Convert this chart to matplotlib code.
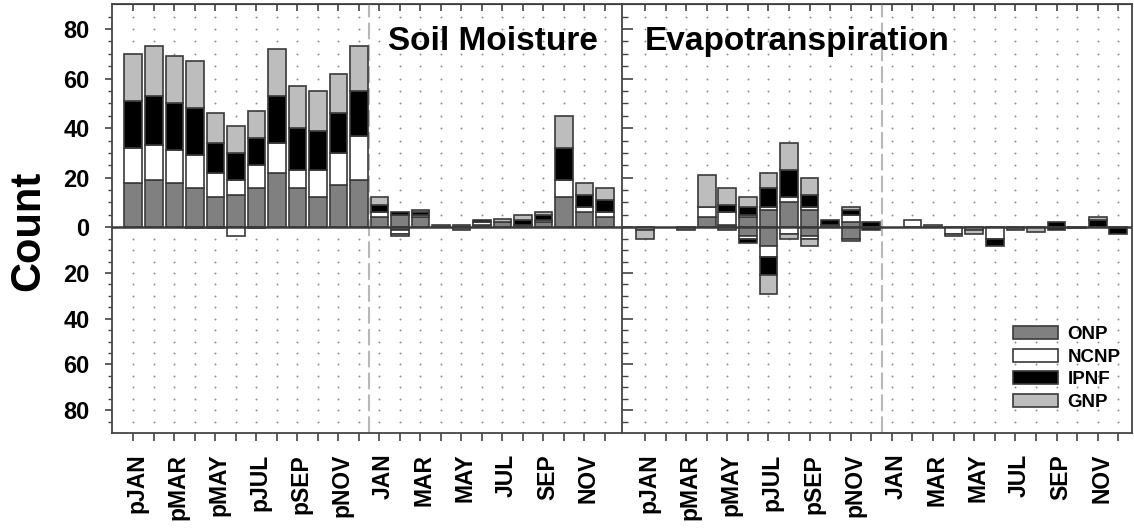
import numpy as np
import matplotlib
matplotlib.use('Agg')
import matplotlib.pyplot as plt
import matplotlib.transforms as mtransforms
from matplotlib.ticker import FuncFormatter

plt.rcParams['font.family'] = ['Liberation Sans', 'DejaVu Sans']
plt.rcParams['font.weight'] = 'bold'

months = ['pJAN', 'pFEB', 'pMAR', 'pAPR', 'pMAY', 'pJUN', 'pJUL', 'pAUG', 'pSEP', 'pOCT', 'pNOV', 'pDEC',
          'JAN', 'FEB', 'MAR', 'APR', 'MAY', 'JUN', 'JUL', 'AUG', 'SEP', 'OCT', 'NOV', 'DEC']
groups = ['ONP', 'NCNP', 'IPNF', 'GNP']
colors = ['#808080', '#ffffff', '#000000', '#bdbdbd']

# Soil moisture, positive counts
sm_onp_pos = [18, 19, 18, 16, 12, 13, 16, 22, 16, 12, 17, 19, 4, 5, 4, 1, 1, 1, 2, 1, 2, 12, 6, 4]
sm_ncnp_pos = [14, 14, 13, 13, 10, 6, 9, 12, 7, 11, 13, 18, 2, 0, 1, 0, 0, 1, 0, 0, 1, 7, 2, 2]
sm_ipnf_pos = [19, 20, 19, 19, 12, 11, 11, 19, 17, 16, 16, 18, 3, 1, 1, 0, 0, 1, 0, 2, 2, 13, 5, 5]
sm_gnp_pos = [19, 20, 19, 19, 12, 11, 11, 19, 17, 16, 16, 18, 3, 0, 1, 0, 0, 0, 1.5, 2, 1, 13, 5, 5]
# Soil moisture, negative counts
sm_onp_neg = [0, 0, 0, -0.5, -0.5, 0, -0.5, 0, 0, 0, 0, 0, 0, -1, 0, 0, -1, 0, 0, 0, 0, 0, 0, 0]
sm_ncnp_neg = [0, 0, 0, 0, 0, -4, 0, 0, 0, 0, 0, 0, 0, -2, 0, 0, 0, 0, 0, 0, 0, 0, 0, 0]
sm_ipnf_neg = [0] * 24
sm_gnp_neg = [0, 0, 0, 0, 0, 0, 0, 0, 0, 0, 0, 0, 0, -1, 0, 0, 0, 0, 0, 0, 0, 0, 0, 0]

# Evapotranspiration, positive counts
et_onp_pos = [0, 0, 0, 4, 1, 4, 7, 10, 7, 0, 2, 0, 0, 0, 0, 0, 0, 0, 0, 0, 0, 0, 0, 0]
et_ncnp_pos = [0, 0, 0, 4, 5, 1, 1, 2, 1, 1, 3, 0, 0, 3, 0, 0, 0, 0, 0, 0, 0, 0, 0, 0]
et_ipnf_pos = [0, 0, 0, 0, 3, 3, 8, 11, 5, 2, 2, 2, 0, 0, 0, 0, 0, 0, 0, 0, 2, 0, 3, 0]
et_gnp_pos = [0, 0, 0, 13, 7, 4, 6, 11, 7, 0, 1, 0, 0, 0, 1, 0, 0, 0, 0, 0, 0, 0, 1, 0]
# Evapotranspiration, negative counts
et_onp_neg = [0, 0, -1, 0, -1, -4, -8, 0, -4, 0, -5, 0, 0, 0, 0, 0, 0, 0, -1, 0, 0, -0.5, 0, 0]
et_ncnp_neg = [-1, 0, 0, 0, 0, -1, -5, -3, -1, 0, 0, 0, 0, 0, 0, -3, -1, -5, 0, 0, 0, 0, 0, 0]
et_ipnf_neg = [0, 0, 0, 0, 0, -2, -8, 0, 0, 0, 0, -1, 0, 0, 0, 0, 0, -3, 0, 0, -1, 0, 0, -3]
et_gnp_neg = [-4, 0, 0, 0, 0, 0, -8, -2, -3, 0, -1, 0, 0, 0, 0, -1, -2, 0, 0, -2, 0, 0, 0, 0]

NEG_SQUEEZE = 0.923  # negative half of the axis is drawn slightly compressed


def fwd(y):
    y = np.asarray(y, float)
    return np.where(y < 0, y * NEG_SQUEEZE, y)


def inv(y):
    y = np.asarray(y, float)
    return np.where(y < 0, y / NEG_SQUEEZE, y)


def stack(ax, series, labelled):
    x = np.arange(1, 25)
    base = np.zeros(24)
    for vals, col, name in zip(series, colors, groups):
        v = np.asarray(vals, float)
        ax.bar(x, np.where(v == 0, np.nan, v), bottom=base, width=0.86, color=col,
               edgecolor='#3a3a3a', linewidth=1.2, zorder=3,
               label=name if labelled else '_nolegend_')
        base = base + v


def draw_panel(ax, pos, neg, title, tx, xlim, left_axis):
    x = np.arange(1, 25)
    ax.set_yscale('function', functions=(fwd, inv))
    ax.set_ylim(-90, 90)
    ax.set_xlim(*xlim)

    gx, gy = np.meshgrid(x, [v for v in range(-85, 90, 5) if v != 0])
    ax.plot(gx.ravel(), gy.ravel(), ls='none', marker='o', ms=1.4, mew=0,
            color='#8f8f8f', zorder=0)

    stack(ax, pos, labelled=True)
    stack(ax, neg, labelled=False)

    ax.axhline(0, color='#3a3a3a', lw=1.8, zorder=4)
    ax.axvline(12.5, color='#b8b8b8', lw=1.5, dashes=(8, 2.5), zorder=1)

    ax.set_xticks(x)
    ax.set_xticklabels([m if i % 2 == 0 else '' for i, m in enumerate(months)],
                       rotation=90, fontsize=16.5)
    ax.tick_params(axis='x', direction='out', length=6, width=1.2, pad=9, color='#444444')
    shift = mtransforms.ScaledTranslation(4 / 100, 0, ax.figure.dpi_scale_trans)
    for lab in ax.get_xticklabels():
        lab.set_transform(lab.get_transform() + shift)

    top = ax.secondary_xaxis('top')
    top.set_xticks(x)
    top.tick_params(direction='in', length=5, width=1.2, labeltop=False, color='#444444')

    ax.set_yticks(np.arange(-80, 81, 20))
    ax.set_yticks(np.arange(-85, 90, 5), minor=True)
    ax.yaxis.set_major_formatter(FuncFormatter(lambda v, p: f'{abs(v):.0f}'))
    if left_axis:
        ax.tick_params(axis='y', which='major', direction='out', length=5, width=1.2,
                       pad=11, labelsize=17, color='#444444')
        ax.tick_params(axis='y', which='minor', direction='out', length=3, width=1,
                       color='#444444')
        ax.spines['right'].set_visible(False)
    else:
        ax.tick_params(axis='y', which='major', direction='in', length=8, width=1.2,
                       labelleft=False, color='#444444')
        ax.tick_params(axis='y', which='minor', direction='in', length=4, width=1,
                       color='#444444')
    for s in ax.spines.values():
        s.set_color('#444444')
        s.set_linewidth(1.3)

    ax.text(tx, 0.893, title, transform=ax.transAxes, fontsize=24,
            ha='left', va='baseline', zorder=6)


fig = plt.figure(figsize=(11.34, 5.31), dpi=100)
ax_l = fig.add_axes([0.0985, 0.1846, 0.45, 0.8073])
ax_r = fig.add_axes([0.5485, 0.1846, 0.4497, 0.8073])

draw_panel(ax_l, [sm_onp_pos, sm_ncnp_pos, sm_ipnf_pos, sm_gnp_pos],
           [sm_onp_neg, sm_ncnp_neg, sm_ipnf_neg, sm_gnp_neg],
           'Soil Moisture', 0.541, (-0.054, 24.83), True)
draw_panel(ax_r, [et_onp_pos, et_ncnp_pos, et_ipnf_pos, et_gnp_pos],
           [et_onp_neg, et_ncnp_neg, et_ipnf_neg, et_gnp_neg],
           'Evapotranspiration', 0.045, (-0.118, 24.666), False)

ax_r.legend(loc='upper left', bbox_to_anchor=(0.767, 0.25), frameon=False,
            fontsize=13.5, handlelength=2.4, handleheight=0.7, handletextpad=0.5,
            labelspacing=0.3, borderpad=0, borderaxespad=0)

fig.text(28 / 1134, 1 - 231 / 531, 'Count', rotation=90, fontsize=30,
         ha='center', va='center')

fig.savefig('out.png', dpi=100)
